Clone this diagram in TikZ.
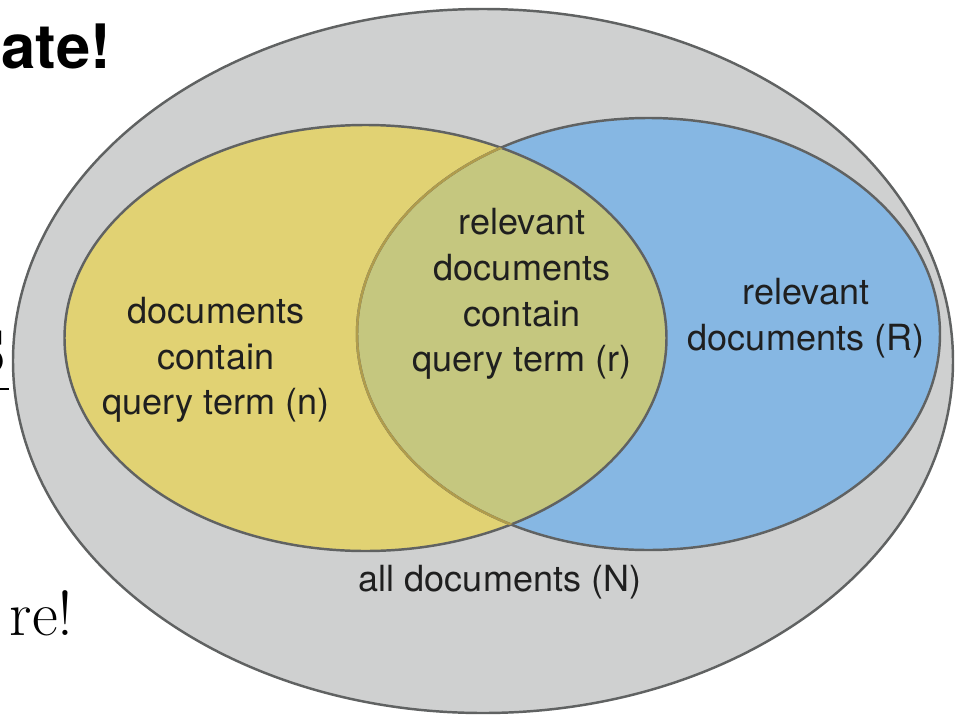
\documentclass[tikz,border=0pt]{standalone}
\usepackage{fontspec}
\setsansfont{TeX Gyre Heros}
\definecolor{allgray}{HTML}{CFD0D0}
\definecolor{edgegray}{HTML}{606262}
\definecolor{termyellow}{HTML}{E1D273}
\definecolor{relblue}{HTML}{86B7E3}
\definecolor{bothgreen}{HTML}{C5C77F}
\definecolor{oliveedge}{HTML}{B09C4C}
\tikzset{
  venntext/.style={align=center,text=black!88,font=\sffamily\fontsize{20.5}{26}\selectfont},
  vennedge/.style={draw=edgegray,line width=1.4pt}
}
\begin{document}
\begin{tikzpicture}[x=0.02cm,y=-0.02cm]
  \useasboundingbox (0,0) rectangle (961,714);
  \clip (0,0) rectangle (961,714);
  % leftovers of the slide behind the diagram
  \node[anchor=base east,inner sep=0,font=\sffamily\bfseries\fontsize{35}{40}\selectfont] (head) at (111,68) {ate!};
  \node[anchor=base east,inner sep=0,font=\fontsize{34}{40}\selectfont] (frac) at (6,372) {S};
  \draw[line width=0.9pt] (0,389) -- (9,389);
  \node[anchor=base east,inner sep=0,font=\fontsize{36}{40}\selectfont] (end) at (74,635) {re!};
  % all documents
  \filldraw[fill=allgray,vennedge] (483,361) ellipse [x radius=470,y radius=352];
  % the two sets
  \fill[relblue] (648.5,334) ellipse [x radius=291.5,y radius=216];
  \fill[termyellow] (365.5,338) ellipse [x radius=301,y radius=213];
  \begin{scope}
    \clip (365.5,338) ellipse [x radius=301,y radius=213];
    \fill[bothgreen] (648.5,334) ellipse [x radius=291.5,y radius=216];
  \end{scope}
  \draw[vennedge] (648.5,334) ellipse [x radius=291.5,y radius=216];
  \draw[vennedge] (365.5,338) ellipse [x radius=301,y radius=213];
  \begin{scope}
    \clip (365.5,338) ellipse [x radius=301,y radius=213];
    \draw[oliveedge,line width=1.4pt] (648.5,334) ellipse [x radius=291.5,y radius=216];
  \end{scope}
  % labels
  \node[venntext] (nterm) at (216,360) {documents\\contain\\query term (n)};
  \node[venntext] (rterm) at (522,294) {relevant\\documents\\contain\\query term (r)};
  \node[venntext] (rel) at (806,318) {relevant\\documents (R)};
  \node[venntext] (all) at (500,582) {all documents (N)};
\end{tikzpicture}
\end{document}
